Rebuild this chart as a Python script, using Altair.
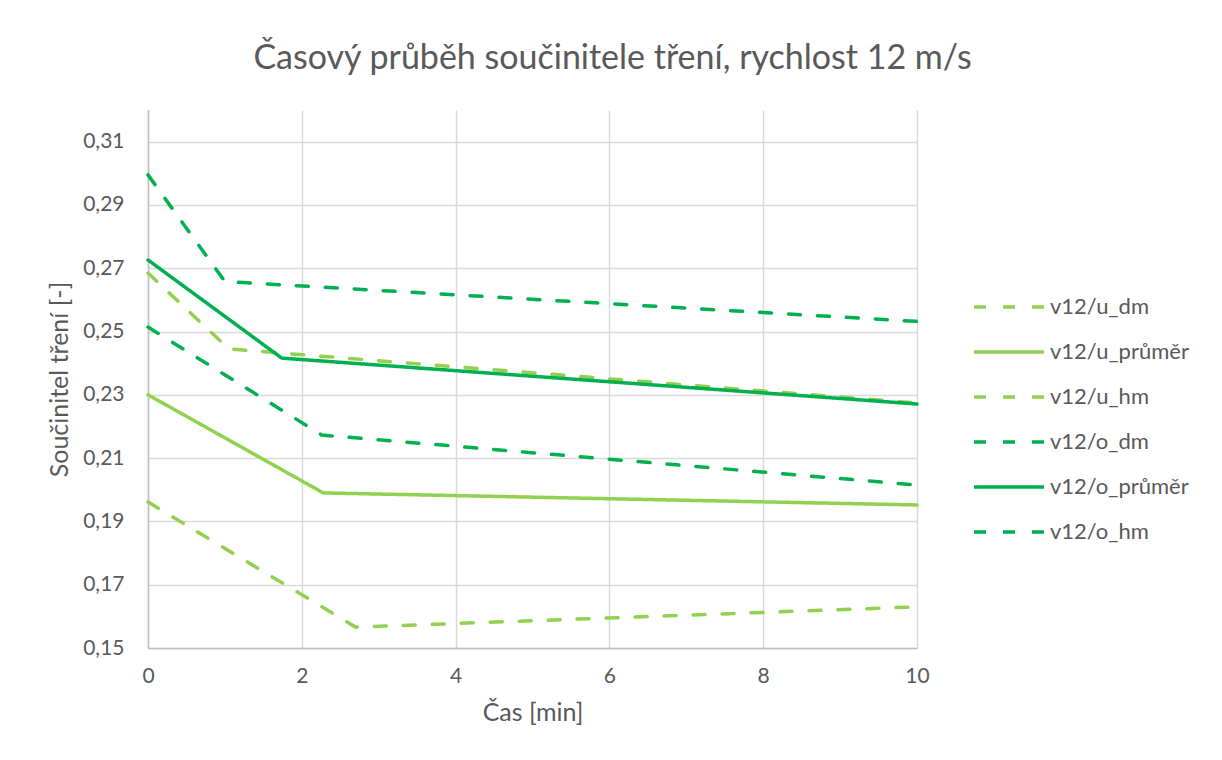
import altair as alt
import pandas as pd

# ---- data ----
series = ["v12/u_dm", "v12/u_průměr", "v12/u_hm", "v12/o_dm", "v12/o_průměr", "v12/o_hm"]

u_dm_t = [0, 2.7, 10]
u_dm_v = [0.1961, 0.1566, 0.1630]

u_prumer_t = [0, 2.28, 10]
u_prumer_v = [0.2300, 0.1990, 0.1952]

u_hm_t = [0, 1.05, 10]
u_hm_v = [0.2685, 0.2445, 0.2274]

o_dm_t = [0, 1.0, 10]
o_dm_v = [0.2995, 0.2658, 0.2532]

o_prumer_t = [0, 1.74, 10]
o_prumer_v = [0.2726, 0.2416, 0.2271]

o_hm_t = [0, 2.26, 10]
o_hm_v = [0.2514, 0.2173, 0.2015]

x_ticks = [0, 2, 4, 6, 8, 10]
y_ticks = [0.15, 0.17, 0.19, 0.21, 0.23, 0.25, 0.27, 0.29, 0.31]

colors = ["#92D050", "#92D050", "#92D050", "#00B050", "#00B050", "#00B050"]
dashes = [[12, 17], [1, 0], [12, 17], [12, 17], [1, 0], [12, 17]]

all_t = [u_dm_t, u_prumer_t, u_hm_t, o_dm_t, o_prumer_t, o_hm_t]
all_v = [u_dm_v, u_prumer_v, u_hm_v, o_dm_v, o_prumer_v, o_hm_v]

rows = []
for i, (name, ts, vs) in enumerate(zip(series, all_t, all_v)):
    for t, v in zip(ts, vs):
        rows.append({"series": name, "idx": i, "t": t, "v": v})
df = pd.DataFrame(rows)

FONT = "Lato"
GREY = "#595959"

legend = alt.Legend(
    title=None,
    orient="none",
    legendX=841.5,
    legendY=177.5,
    symbolType="M-2,0L2,0",
    symbolSize=1225,
    symbolStrokeWidth=3.5,
    labelFontSize=22,
    labelFont=FONT,
    labelColor=GREY,
    labelOffset=21.5,
    rowPadding=14,
)

chart = (
    alt.Chart(df)
    .mark_line(strokeWidth=3.5, strokeCap="round")
    .encode(
        x=alt.X(
            "t:Q",
            scale=alt.Scale(domain=[0, 10], nice=False),
            axis=alt.Axis(values=x_ticks, title="Čas [min]", labelPadding=17,
                          titlePadding=14, labelFlush=False),
        ),
        y=alt.Y(
            "v:Q",
            scale=alt.Scale(domain=[0.15, 0.32], nice=False, zero=False),
            axis=alt.Axis(
                values=y_ticks,
                labelExpr="replace(format(datum.value, '.2f'), '.', ',')",
                title="Součinitel tření [-]",
                labelPadding=24,
                titlePadding=10,
            ),
        ),
        color=alt.Color("series:N", scale=alt.Scale(domain=series, range=colors), legend=legend),
        strokeDash=alt.StrokeDash("series:N", scale=alt.Scale(domain=series, range=dashes), legend=legend),
        detail="idx:O",
    )
    .properties(
        width=769,
        height=538,
        autosize=alt.AutoSizeParams(type="none"),
        padding={"left": 140, "top": 102, "right": 297, "bottom": 104},
        title=alt.Title(
            "Časový průběh součinitele tření, rychlost 12 m/s",
            fontSize=34,
            font=FONT,
            color=GREY,
            fontWeight="normal",
            anchor="middle",
            dx=80,
            offset=34,
        ),
    )
    .configure_view(stroke=None)
    .configure_axis(
        labelFont=FONT,
        titleFont=FONT,
        labelFontSize=21,
        titleFontSize=25,
        labelColor=GREY,
        titleColor=GREY,
        titleFontWeight="normal",
        ticks=False,
        gridColor="#d9d9d9",
        gridWidth=1.5,
        domainColor="#bfbfbf",
        domainWidth=1.5,
    )
)

chart.save("out.html", embed_options={"renderer": "svg", "actions": False})
